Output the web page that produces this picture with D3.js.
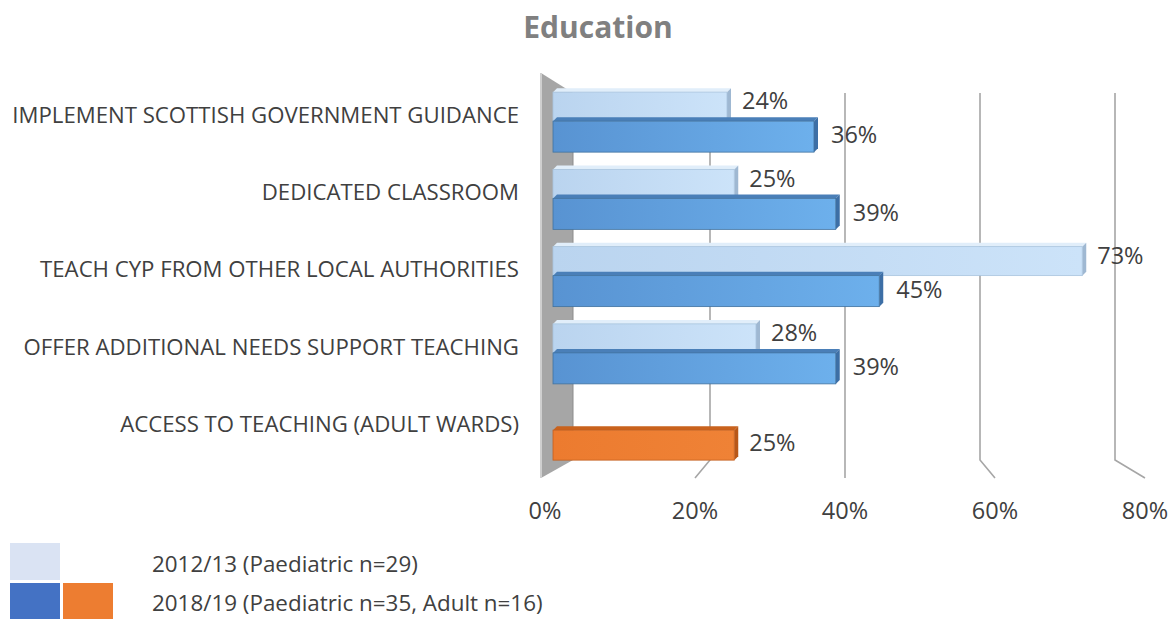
<!DOCTYPE html>
<html>
<head>
<meta charset="utf-8">
<script src="https://cdn.jsdelivr.net/npm/d3@7"></script>
<style>
  body { margin: 0; background: #fff; }
  svg { display: block; font-family: "Open Sans", sans-serif; }
</style>
</head>
<body>
<svg id="chart" width="1173" height="619"></svg>
<script>
const categories = [
  'IMPLEMENT SCOTTISH GOVERNMENT GUIDANCE',
  'DEDICATED CLASSROOM',
  'TEACH CYP FROM OTHER LOCAL AUTHORITIES',
  'OFFER ADDITIONAL NEEDS SUPPORT TEACHING',
  'ACCESS TO TEACHING (ADULT WARDS)'
];
const paed2012 = [24, 25, 73, 28, null];
const paed2018 = [36, 39, 45, 39, null];
const adult2018 = [null, null, null, null, 25];
const tickValues = [0, 20, 40, 60, 80];
const legendLabels = ['2012/13 (Paediatric n=29)', '2018/19 (Paediatric n=35, Adult n=16)'];

const svg = d3.select('#chart');
const depth = 4;

// gradients
const defs = svg.append('defs');
function grad(id, c0, c1) {
  const g = defs.append('linearGradient').attr('id', id)
    .attr('x1', '0%').attr('x2', '100%').attr('y1', '0%').attr('y2', '0%');
  g.append('stop').attr('offset', '0%').attr('stop-color', c0);
  g.append('stop').attr('offset', '100%').attr('stop-color', c1);
}
grad('gLight', '#bad4ef', '#cce3f9');
grad('gBlue', '#5893d2', '#6db0ec');
grad('gOrange', '#ec7b2f', '#ef8236');

// three x scales: back wall, front floor edge, bar front face
const xBack = d3.scaleLinear().domain([0, 80]).range([575, 1115]);
const xFront = d3.scaleLinear().domain([0, 80]).range([545, 1145]);
const xBar = d3.scaleLinear().domain([0, 80]).range([553, 1133]);

const y = d3.scaleBand().domain(categories).range([82.5, 468.75]);

const wallTop = 93, wallBottom = 460, floorFront = 478;

// title
svg.append('text')
  .attr('x', 598).attr('y', 38)
  .attr('text-anchor', 'middle')
  .style('font-size', '30px').style('font-weight', 'bold')
  .style('fill', '#808080')
  .text('Education');

// gridlines on back wall + floor
svg.append('g').selectAll('path')
  .data(tickValues.slice(1))
  .join('path')
  .attr('d', d => `M${xBack(d)},${wallTop} L${xBack(d)},${wallBottom} L${xFront(d)},${floorFront}`)
  .attr('fill', 'none')
  .attr('stroke', '#a6a6a6')
  .attr('stroke-width', 1.6);

// left wall
svg.append('path')
  .attr('d', `M541,73 L${xBack(0) - 2},${wallTop} L${xBack(0) - 2},${wallBottom} L541,${floorFront} Z`)
  .attr('fill', '#a6a6a6');
svg.append('path')
  .attr('d', `M541,73 L541,${floorFront}`)
  .attr('stroke', '#cfcfcf').attr('stroke-width', 2);
svg.append('path')
  .attr('d', `M${xBack(0) - 2},${wallTop} L${xBack(0) - 2},${wallBottom}`)
  .attr('stroke', '#8c8c8c').attr('stroke-width', 1);

// bars
function drawBar(g, v, y0, h, fill, top, side, edge) {
  const x0 = xBar(0), x1 = xBar(v);
  g.append('path')
    .attr('d', `M${x0 + depth},${y0 - depth} L${x1 + depth},${y0 - depth} L${x1},${y0} L${x0},${y0} Z`)
    .attr('fill', top);
  g.append('path')
    .attr('d', `M${x1},${y0} L${x1 + depth},${y0 - depth} L${x1 + depth},${y0 + h - depth} L${x1},${y0 + h} Z`)
    .attr('fill', side);
  g.append('rect')
    .attr('x', x0).attr('y', y0)
    .attr('width', x1 - x0).attr('height', h)
    .attr('fill', fill)
    .attr('stroke', edge).attr('stroke-width', 0.8);
}

const bars = svg.append('g');
const mid = d => y(d) + y.bandwidth() / 2;
const labelStyle = sel => sel.style('font-size', '23.5px').style('fill', '#404040');

categories.forEach((c, i) => {
  const m = mid(c);
  if (paed2012[i] != null) {
    drawBar(bars, paed2012[i], m - 29, 29, 'url(#gLight)', '#e1eefa', '#9fb8d2', '#a9c4de');
    bars.append('text')
      .attr('x', xBar(paed2012[i]) + depth + 11).attr('y', m - 20)
      .attr('dy', '0.35em').call(labelStyle)
      .text(paed2012[i] + '%');
  }
  if (paed2018[i] != null) {
    drawBar(bars, paed2018[i], m, 31, 'url(#gBlue)', '#4a7fb8', '#3d6fa6', '#41729f');
    bars.append('text')
      .attr('x', xBar(paed2018[i]) + depth + 13).attr('y', m + 14)
      .attr('dy', '0.35em').call(labelStyle)
      .text(paed2018[i] + '%');
  }
  if (adult2018[i] != null) {
    drawBar(bars, adult2018[i], m, 30, 'url(#gOrange)', '#c9621d', '#b85718', '#c25f1f');
    bars.append('text')
      .attr('x', xBar(adult2018[i]) + depth + 11).attr('y', m + 13)
      .attr('dy', '0.35em').call(labelStyle)
      .text(adult2018[i] + '%');
  }
});

// category labels
svg.append('g').selectAll('text')
  .data(categories)
  .join('text')
  .attr('x', 519)
  .attr('y', d => mid(d) - 6)
  .attr('dy', '0.35em')
  .attr('text-anchor', 'end')
  .style('font-size', '22.2px')
  .style('fill', '#404040')
  .text(d => d);

// x axis labels
svg.append('g').selectAll('text')
  .data(tickValues)
  .join('text')
  .attr('x', d => xFront(d))
  .attr('y', 511)
  .attr('dy', '0.35em')
  .attr('text-anchor', 'middle')
  .style('font-size', '23.5px')
  .style('fill', '#404040')
  .text(d => d + '%');

// legend
const legend = svg.append('g');
legend.append('rect').attr('x', 10).attr('y', 543).attr('width', 50).attr('height', 37).attr('fill', '#dae3f3');
legend.append('rect').attr('x', 10).attr('y', 583).attr('width', 50).attr('height', 36).attr('fill', '#4472c4');
legend.append('rect').attr('x', 63).attr('y', 583).attr('width', 50).attr('height', 36).attr('fill', '#ed7d31');
legend.selectAll('text')
  .data(legendLabels)
  .join('text')
  .attr('x', 152)
  .attr('y', (d, i) => 564 + i * 39)
  .attr('dy', '0.35em')
  .style('font-size', '22.4px')
  .style('fill', '#404040')
  .text(d => d);
</script>
</body>
</html>
